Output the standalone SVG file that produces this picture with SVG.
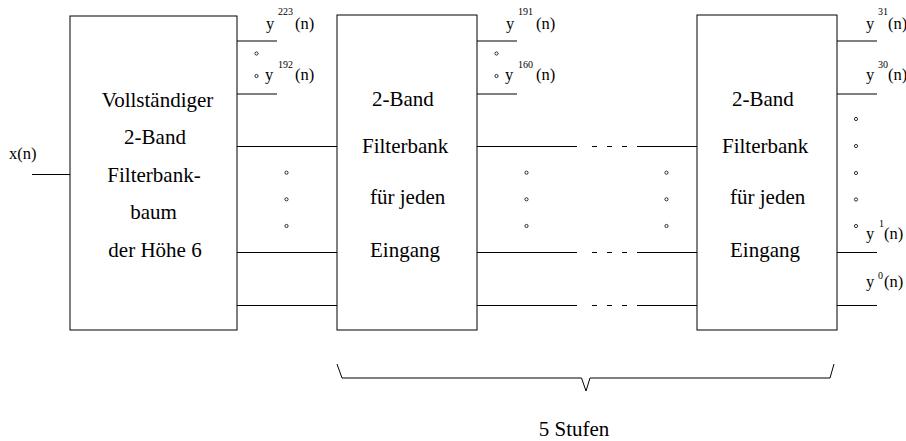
<svg xmlns="http://www.w3.org/2000/svg" width="906" height="441" viewBox="0 0 906 441">
<style>
.box{fill:#fff;stroke:#000;stroke-width:1}
.ln{stroke:#000;stroke-width:1;fill:none}
.gl{stroke:#000;stroke-width:1;fill:none}
.dot{fill:#fff;stroke:#000;stroke-width:0.8}
text{font-family:'Liberation Serif','Times New Roman',serif;fill:#000}
.big{font-size:21px}
.lab{font-size:16.5px}
.sup{font-size:10px}
</style>
<rect width="906" height="441" fill="#fff"/>
<g id="connectors">
  <line class="ln" x1="32" y1="174.5" x2="70" y2="174.5"/>
  <line class="gl" x1="237" y1="41" x2="277" y2="41"/>
  <line class="gl" x1="237" y1="94" x2="277" y2="94"/>
  <line class="ln" x1="237" y1="146.5" x2="337" y2="146.5"/>
  <line class="ln" x1="237" y1="252.5" x2="337" y2="252.5"/>
  <line class="ln" x1="237" y1="305.5" x2="337" y2="305.5"/>
  <line class="gl" x1="477" y1="41" x2="517" y2="41"/>
  <line class="gl" x1="477" y1="94" x2="517" y2="94"/>
  <path class="ln" d="M477,146.5H577M592,146.5H597M607,146.5H612M622,146.5H627M637,146.5H697"/>
  <path class="ln" d="M477,252.5H577M592,252.5H597M607,252.5H612M622,252.5H627M637,252.5H697"/>
  <path class="ln" d="M477,305.5H577M592,305.5H597M607,305.5H612M622,305.5H627M637,305.5H697"/>
  <line class="gl" x1="837" y1="41" x2="877" y2="41"/>
  <line class="gl" x1="837" y1="94" x2="877" y2="94"/>
  <line class="ln" x1="837" y1="252.5" x2="877" y2="252.5"/>
  <line class="ln" x1="837" y1="305.5" x2="877" y2="305.5"/>
</g>
<g id="input">
  <text class="lab" x="9" y="159">x(n)</text>
</g>
<g id="tree">
  <rect class="box" x="70" y="16" width="167" height="314"/>
  <text class="big" text-anchor="middle" x="157.5" y="106.5">Vollständiger</text>
  <text class="big" text-anchor="middle" x="155" y="144">2-Band</text>
  <text class="big" text-anchor="middle" x="154" y="181.5">Filterbank-</text>
  <text class="big" text-anchor="middle" x="153.5" y="219">baum</text>
  <text class="big" text-anchor="middle" x="155" y="256.5">der Höhe 6</text>
</g>
<g id="stage1">
  <rect class="box" x="337" y="15" width="140" height="315"/>
  <text class="big" x="372" y="106">2-Band</text>
  <text class="big" x="362" y="152.5">Filterbank</text>
  <text class="big" x="370" y="204">für jeden</text>
  <text class="big" x="370" y="256.5">Eingang</text>
</g>
<g id="stage5">
  <rect class="box" x="697" y="15" width="140" height="315"/>
  <text class="big" x="732" y="106">2-Band</text>
  <text class="big" x="722" y="152.5">Filterbank</text>
  <text class="big" x="730" y="204">für jeden</text>
  <text class="big" x="730" y="256.5">Eingang</text>
</g>
<g id="labels-tree">
  <text class="lab" x="266" y="28.5">y</text><text class="sup" x="278" y="15">223</text><text class="lab" x="295" y="28.5">(n)</text>
  <circle class="dot" cx="256.5" cy="53.5" r="1.6"/>
  <circle class="dot" cx="256.5" cy="76" r="1.6"/>
  <text class="lab" x="265" y="80">y</text><text class="sup" x="278" y="67.5">192</text><text class="lab" x="295" y="80">(n)</text>
  <circle class="dot" cx="286.5" cy="172.7" r="1.6"/>
  <circle class="dot" cx="286.5" cy="199.3" r="1.6"/>
  <circle class="dot" cx="286.5" cy="226" r="1.6"/>
</g>
<g id="labels-stage1">
  <text class="lab" x="506" y="28.5">y</text><text class="sup" x="518" y="15">191</text><text class="lab" x="536" y="28.5">(n)</text>
  <circle class="dot" cx="496.5" cy="53.5" r="1.6"/>
  <circle class="dot" cx="496.5" cy="76" r="1.6"/>
  <text class="lab" x="505" y="80">y</text><text class="sup" x="518" y="67.5">160</text><text class="lab" x="536" y="80">(n)</text>
  <circle class="dot" cx="526.5" cy="172.7" r="1.6"/>
  <circle class="dot" cx="526.5" cy="199.3" r="1.6"/>
  <circle class="dot" cx="526.5" cy="226" r="1.6"/>
  <circle class="dot" cx="666.5" cy="172.7" r="1.6"/>
  <circle class="dot" cx="666.5" cy="199.3" r="1.6"/>
  <circle class="dot" cx="666.5" cy="226" r="1.6"/>
</g>
<g id="labels-stage5">
  <text class="lab" x="866" y="28.5">y</text><text class="sup" x="878" y="15">31</text><text class="lab" x="888" y="28.5">(n)</text>
  <text class="lab" x="866" y="80">y</text><text class="sup" x="878" y="67.5">30</text><text class="lab" x="888" y="80">(n)</text>
  <circle class="dot" cx="856" cy="119" r="1.6"/>
  <circle class="dot" cx="856" cy="146" r="1.6"/>
  <circle class="dot" cx="856" cy="173" r="1.6"/>
  <circle class="dot" cx="856" cy="199.5" r="1.6"/>
  <circle class="dot" cx="856" cy="226" r="1.6"/>
  <text class="lab" x="866" y="239">y</text><text class="sup" x="879" y="227">1</text><text class="lab" x="884" y="239">(n)</text>
  <text class="lab" x="866" y="287">y</text><text class="sup" x="878" y="278.5">0</text><text class="lab" x="884" y="287">(n)</text>
</g>
<g id="brace">
  <path class="gl" d="M337,364 L342,378 L581.5,378 L586,391 L590,378 L830,378 L834,364"/>
  <text class="big" text-anchor="middle" x="574" y="436">5 Stufen</text>
</g>
</svg>
